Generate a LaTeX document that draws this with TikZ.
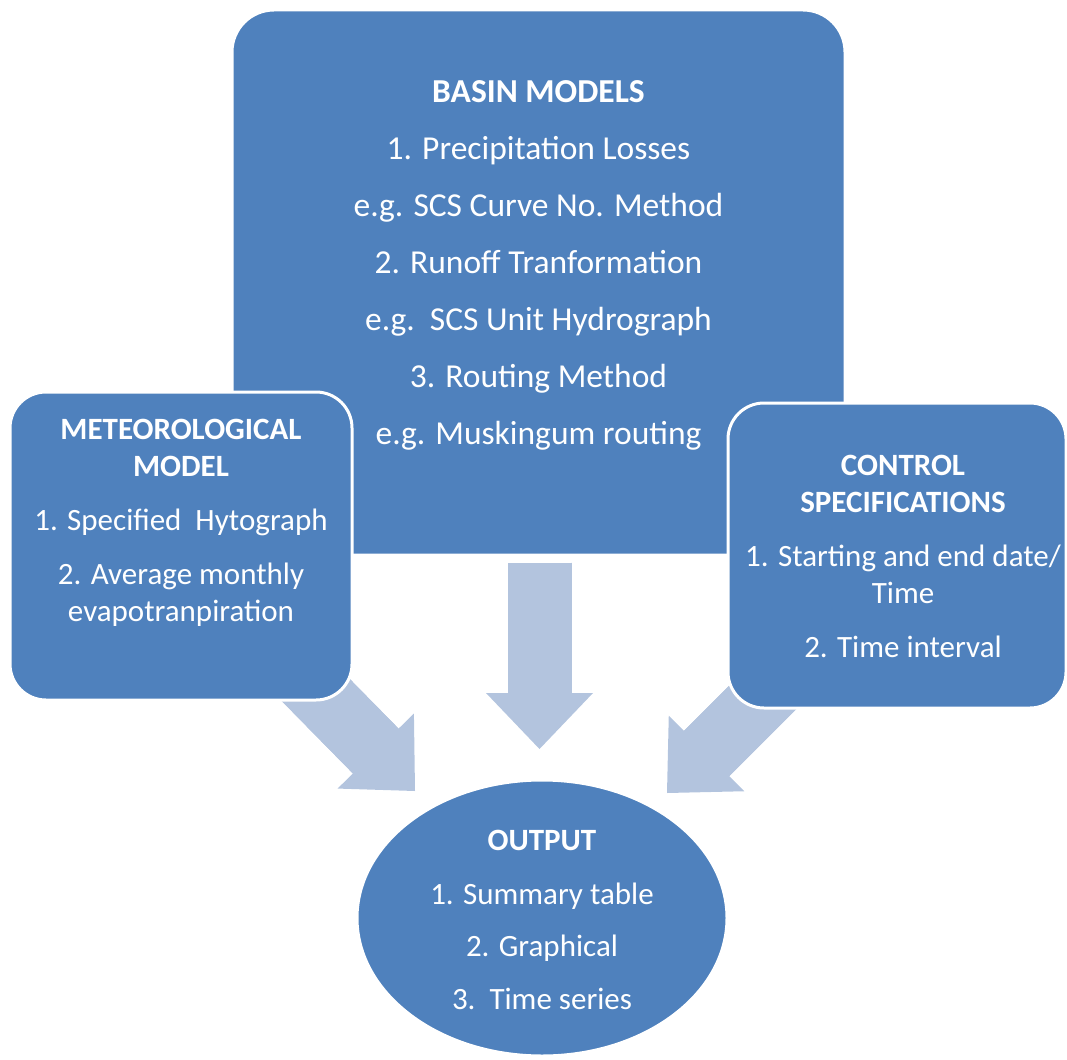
\documentclass[tikz,border=0pt]{standalone}
\usepackage{fontspec}
\setmainfont{Carlito}
\usepackage{tikz}
\usetikzlibrary{shapes.geometric, arrows.meta, backgrounds, positioning}
\definecolor{boxblue}{RGB}{79,129,189}
\definecolor{arrowblue}{RGB}{179,196,222}

\begin{document}
\begin{tikzpicture}[x=1pt, y=-1pt,
  panel/.style={draw=white, line width=3pt, fill=boxblue, rounded corners=#1},
  panel/.default=36pt,
  listtext/.style={text=white, align=center, inner sep=0pt,
    font=\fontsize{31}{37}\selectfont},
  bigarrow/.style={arrowblue, line width=64pt,
    -{Triangle[length=56pt, width=107pt, line width=0pt]}},
  shaft/.style={arrowblue, line width=64pt, shorten >=50pt}]
  \useasboundingbox (0,0) rectangle (1067,1059);
  % Les trois blocs d'entrée : le bassin derrière, les deux autres devant.
  \node[panel=42pt, minimum width=613pt, minimum height=545pt] (basin) at (538.5,282.5) {};
  \node[panel, minimum width=342pt, minimum height=308pt] (meteo) at (181,546) {};
  \node[panel, minimum width=338pt, minimum height=305pt] (control) at (897,555.5) {};
  % La sortie, en ellipse.
  \node[panel, ellipse, minimum width=370pt, minimum height=276pt] (output) at (542,918) {};
  % Les listes de chaque bloc.
  \node[listtext, font=\fontsize{33.5}{39}\selectfont] (basinlist)
    at ([yshift=17pt]basin.center)
    {\textbf{BASIN MODELS}\\[18pt]
     1. Precipitation Losses\\[18pt]
     e.g. SCS Curve No. Method\\[18pt]
     2. Runoff Tranformation\\[18pt]
     e.g.\ \ SCS Unit Hydrograph\\[18pt]
     3. Routing Method\\[18pt]
     e.g. Muskingum routing};
  \node[listtext] (meteolist) at ([yshift=23pt]meteo.center)
    {\textbf{METEOROLOGICAL}\\ \textbf{MODEL}\\[17pt]
     1. Specified\ \ Hytograph\\[17pt]
     2. Average monthly\\ evapotranpiration};
  \node[listtext] (controllist) at ([shift={(6,1)}]control.center)
    {\textbf{CONTROL}\\ \textbf{SPECIFICATIONS}\\[17pt]
     1. Starting and end date/\\ Time\\[17pt]
     2. Time interval};
  \node[listtext] (outputlist) at ([yshift=-2pt]output.center)
    {\textbf{OUTPUT}\\[17pt]
     1. Summary table\\[15pt]
     2. Graphical\\[16pt]
     3.\ \ Time series};
  % Les grosses flèches, glissées sous les blocs.
  \coordinate (tailleft) at ([shift={(-52,-26)}]meteo.south east);
  \coordinate (tailmid) at ([shift={(1,6)}]basin.south);
  \coordinate (tailright) at ([shift={(57,-33)}]control.south west);
  \coordinate (tipleft) at (415,791);
  \coordinate (tipmid) at (539.5,749);
  \coordinate (tipright) at (667,793);
  \begin{scope}[on background layer]
    \foreach \from/\to in {tailleft/tipleft, tailmid/tipmid, tailright/tipright} {
      \draw[bigarrow] (\from) -- (\to);
      \draw[shaft] (\from) -- (\to);
    }
  \end{scope}
\end{tikzpicture}
\end{document}
